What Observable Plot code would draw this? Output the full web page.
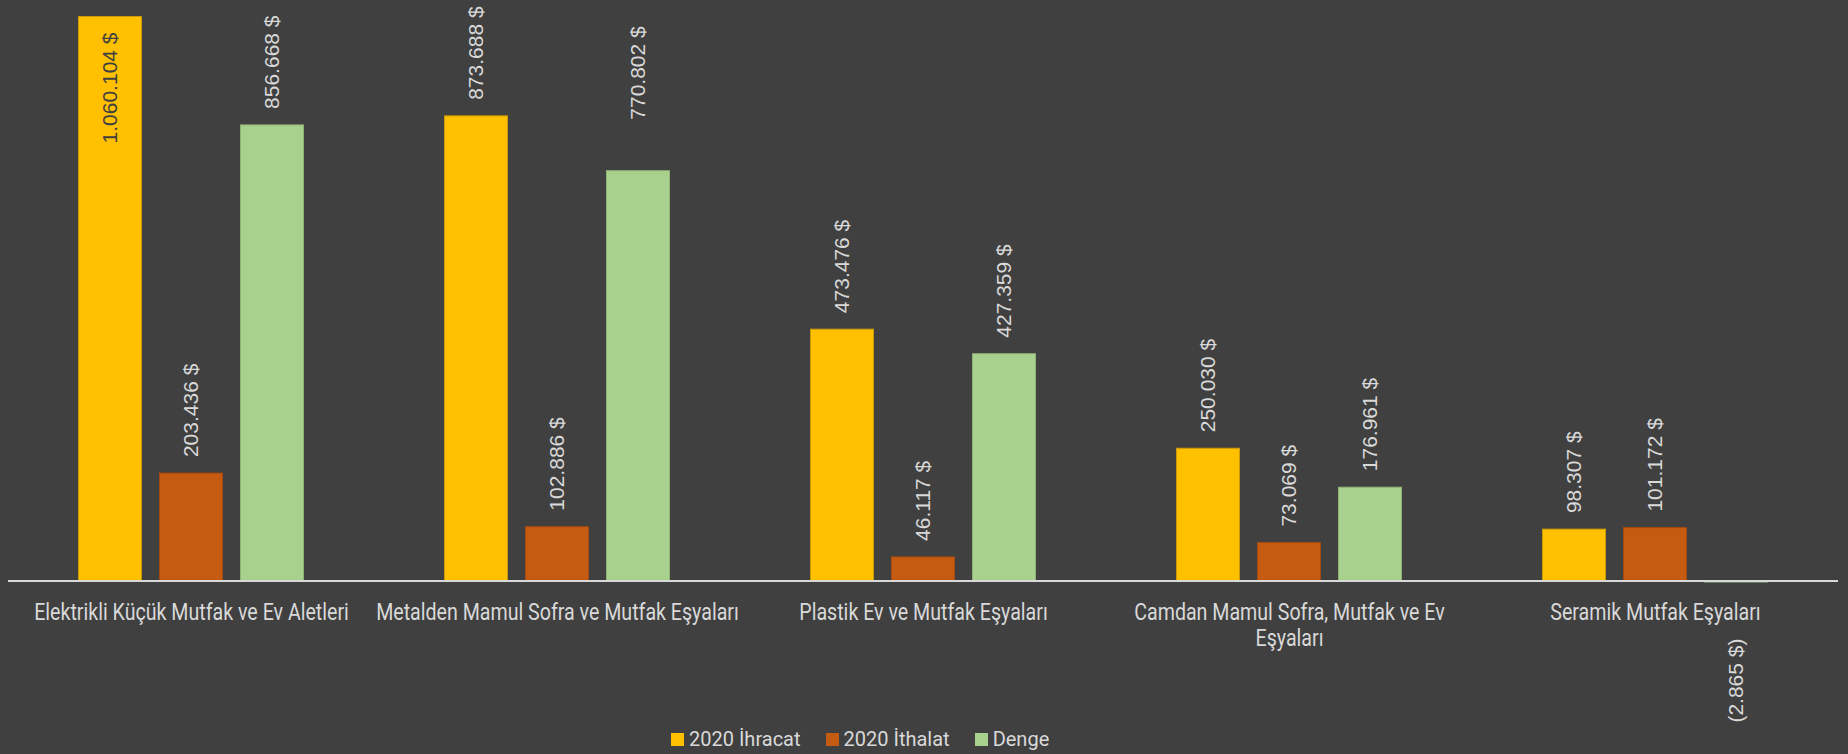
<!DOCTYPE html>
<html><head><meta charset="utf-8">
<script src="https://cdn.jsdelivr.net/npm/d3@7"></script>
<script src="https://cdn.jsdelivr.net/npm/@observablehq/plot@0.6"></script>
<style>
html,body{margin:0;padding:0;background:#404040;}
#wrap{position:relative;width:1848px;height:754px;overflow:hidden;background:#404040;}
#legend{position:absolute;left:671px;top:727px;display:flex;align-items:center;
  font-family:Roboto,'Liberation Sans',sans-serif;font-size:20px;color:#d9d9d9;line-height:24px;}
#legend .item{display:flex;align-items:center;margin-right:25px;}
#legend .sw{width:13px;height:13px;margin-right:5px;}
</style></head>
<body><div id="wrap"><div id="chart"></div><div id="legend"></div></div>
<script>
const categories = ["Elektrikli Küçük Mutfak ve Ev Aletleri", "Metalden Mamul Sofra ve Mutfak Eşyaları", "Plastik Ev ve Mutfak Eşyaları", "Camdan Mamul Sofra, Mutfak ve Ev Eşyaları", "Seramik Mutfak Eşyaları"];
const categoryLabels = ["Elektrikli Küçük Mutfak ve Ev Aletleri", "Metalden Mamul Sofra ve Mutfak Eşyaları", "Plastik Ev ve Mutfak Eşyaları", "Camdan Mamul Sofra, Mutfak ve Ev\nEşyaları", "Seramik Mutfak Eşyaları"];
const series = ["2020 İhracat", "2020 İthalat", "Denge"];
const ihracat = [1060104, 873688, 473476, 250030, 98307];
const ithalat = [203436, 102886, 46117, 73069, 101172];
const denge = [856668, 770802, 427359, 176961, -2865];
const colors = ["#FFC000", "#C55A11", "#A9D18E"];
const strokes = ["#C9990A", "#A54A0E", "#8FB576"];

const values = [ihracat, ithalat, denge];
const data = [];
categories.forEach((c, i) => series.forEach((s, j) => data.push({cat: c, series: s, value: values[j][i]})));

const fmtNum = v => d3.format(",")(Math.abs(v)).replace(/,/g, ".");
const fmt = v => v < 0 ? `(${fmtNum(v)} $)` : `${fmtNum(v)} $`;

const H = 722, plotTop = 16, plotBase = 581;
const ymax = d3.max(data, d => d.value);
const pxPer = (plotBase - plotTop) / ymax;
const labelLen = d => fmt(d.value).length * 10.3;
const fitsAbove = d => d.value >= 0 && (plotBase - d.value * pxPer) - 16 - labelLen(d) >= 0;
const liftedLabels = ["Metalden Mamul Sofra ve Mutfak Eşyaları|Denge"];
const isLifted = d => liftedLabels.includes(d.cat + "|" + d.series);

const above = data.filter(d => fitsAbove(d) && !isLifted(d));
const aboveLifted = data.filter(d => fitsAbove(d) && isLifted(d));
const inside = data.filter(d => d.value >= 0 && !fitsAbove(d));
const below = data.filter(d => d.value < 0);

const valueFont = "'Liberation Sans', Arial, sans-serif";
const catFont = "Roboto, 'Liberation Sans', sans-serif";
const labelOpts = {fx: "cat", x: "series", y: "value", text: d => fmt(d.value),
  rotate: -90, lineAnchor: "middle", fontSize: 21, fontFamily: valueFont};

const chart = Plot.plot({
  width: 1848, height: H,
  marginLeft: 8, marginRight: 10, marginTop: plotTop, marginBottom: H - plotBase,
  style: {background: "#404040", color: "#d9d9d9", overflow: "visible"},
  fx: {domain: categories, padding: 0, axis: null},
  x: {domain: series, paddingInner: 0.21, paddingOuter: 0.864, axis: null},
  y: {domain: [0, ymax], axis: null},
  color: {domain: series, range: colors},
  marks: [
    Plot.barY(data, {fx: "cat", x: "series", y: "value", fill: "series",
      stroke: d => strokes[series.indexOf(d.series)], strokeWidth: 1, inset: 0.5}),
    Plot.ruleY([0], {stroke: "#d9d9d9", strokeWidth: 2, dy: -0.6}),
    Plot.text(above, {...labelOpts, textAnchor: "start", dy: -16, fill: "#d9d9d9"}),
    Plot.text(aboveLifted, {...labelOpts, textAnchor: "start", dy: -51, fill: "#d9d9d9"}),
    Plot.text(inside, {...labelOpts, textAnchor: "end", dy: 16, fill: "#404040"}),
    Plot.text(below, {...labelOpts, y: 0, textAnchor: "end", dy: 57, fill: "#d9d9d9"}),
    Plot.text(categories, {fx: d => d, frameAnchor: "bottom", text: d => categoryLabels[categories.indexOf(d)],
      lineAnchor: "top", dy: 20, fill: "#d9d9d9", fontSize: 24, lineHeight: 1.08, fontFamily: catFont})
  ]
});
document.getElementById("chart").appendChild(chart);

// condense the category labels horizontally (the original uses a condensed typeface)
const textGroups = chart.querySelectorAll("g[aria-label='text']");
const catGroup = textGroups[textGroups.length - 1];
const catTexts = catGroup ? Array.from(catGroup.querySelectorAll("text")) : [];
if (catTexts.length) {
  const firstLen = catTexts[0].getComputedTextLength();
  const k = firstLen > 0 ? Math.min(1, 315 / firstLen) : 1;
  catTexts.forEach(t => {
    const tr = t.getAttribute("transform");
    if (tr) t.setAttribute("transform", tr + ` scale(${k},1)`);
    else {
      const x = +t.getAttribute("x") || 0, y = +t.getAttribute("y") || 0;
      t.setAttribute("transform", `translate(${x},${y}) scale(${k},1)`);
      t.setAttribute("x", 0); t.setAttribute("y", 0);
    }
  });
}

const legend = document.getElementById("legend");
series.forEach((s, j) => {
  const it = document.createElement("div"); it.className = "item";
  const sw = document.createElement("div"); sw.className = "sw"; sw.style.background = colors[j];
  const tx = document.createElement("span"); tx.textContent = s;
  it.appendChild(sw); it.appendChild(tx); legend.appendChild(it);
});
</script></body></html>
